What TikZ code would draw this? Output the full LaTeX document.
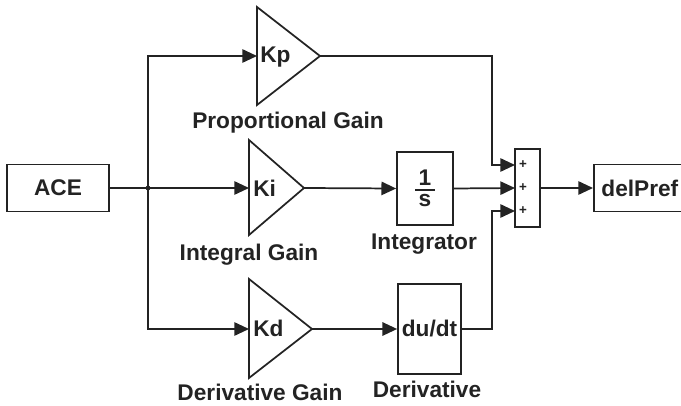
\documentclass[tikz,border=0pt]{standalone}
\usepackage{fontspec}
\setmainfont{Liberation Sans}
\usetikzlibrary{arrows.meta}
\definecolor{ink}{RGB}{35,35,35}
\tikzset{
  wire/.style={line width=1.3pt, draw=ink},
  arr/.style={wire, -{Triangle[length=11pt,width=10pt]}},
  blockbox/.style={draw=ink, line width=1.3pt, rectangle, inner sep=0pt, font=\fontsize{17}{20}\selectfont\bfseries, text=ink},
  lbl/.style={font=\fontsize{17}{20}\selectfont\bfseries, text=ink, inner sep=0pt},
  plussign/.style={font=\fontsize{10}{11}\selectfont\bfseries, text=ink, inner sep=0pt},
}
\begin{document}
\begin{tikzpicture}[x=0.75pt,y=-0.75pt]
\clip (0,0) rectangle (681,406);
\fill[white] (0,0) rectangle (681,406);

% blocks
\node[blockbox, minimum width=76.5pt, minimum height=35.25pt] (ace) at (58,188) {ACE};
\node[blockbox, minimum width=42pt, minimum height=54.75pt] (int) at (425,188.5) {};
\node[lbl] (frac) at (425,188.5) {\vbox{\hsize=15pt\offinterlineskip\hbox to \hsize{\hss 1\hss}\kern2.5pt\hrule height 1.4pt\kern3pt\hbox to \hsize{\hss s\hss}}};
\node[blockbox, minimum width=47.25pt, minimum height=67.5pt] (der) at (429.5,329) {du/dt};
\node[blockbox, minimum width=18.75pt, minimum height=58.5pt] (sum) at (527.5,188) {};
\node[blockbox, minimum width=69pt, minimum height=35.25pt, anchor=west] (del) at (593,188) {delPref};

% sum inputs
\coordinate (s1) at (515,165);
\coordinate (s2) at (515,188);
\coordinate (s3) at (515,211);
\node[plussign] (p1) at (523,165) {+};
\node[plussign] (p2) at (523,188) {+};
\node[plussign] (p3) at (523,211) {+};

% gain triangles
\coordinate (kpin) at (257,56);
\coordinate (kpout) at (320,56);
\draw[wire] (257,7) -- (kpout) -- (257,105) -- cycle;
\node[lbl, anchor=base west] (kp) at (260,63) {Kp};

\coordinate (kiin) at (249,188);
\coordinate (kiout) at (304,188);
\draw[wire] (249,140) -- (kiout) -- (249,235) -- cycle;
\node[lbl, anchor=base west] (ki) at (253,196) {Ki};

\coordinate (kdin) at (249,329);
\coordinate (kdout) at (312,329);
\draw[wire] (249,279) -- (kdout) -- (249,378) -- cycle;
\node[lbl, anchor=base west] (kd) at (253,336) {Kd};

% labels
\node[lbl, anchor=base] (lp) at (288,129) {Proportional Gain};
\node[lbl, anchor=base] (li) at (249,260) {Integral Gain};
\node[lbl, anchor=base] (ld) at (260,400) {Derivative Gain};
\node[lbl, anchor=base] (lint) at (424,249) {Integrator};
\node[lbl, anchor=base] (lder) at (427,397) {Derivative};

% connectors
\coordinate (jn) at (148,188);
\coordinate (j1) at (492,165);
\coordinate (j3) at (492,211);
\draw[arr] (ace.east) -- (kiin);
\draw[arr] (jn) |- (kpin);
\draw[arr] (jn) |- (kdin);
\fill[ink] (jn) circle (1.8pt);
\draw[arr] (kiout) -- (int.west);
\draw[arr] (int.east) -- (s2);
\draw[arr] (kpout) -| (j1) -- (s1);
\draw[arr] (kdout) -- (der.west);
\draw[arr] (der.east) -| (j3) -- (s3);
\draw[arr] (sum.east) -- (del.west);
\end{tikzpicture}
\end{document}
